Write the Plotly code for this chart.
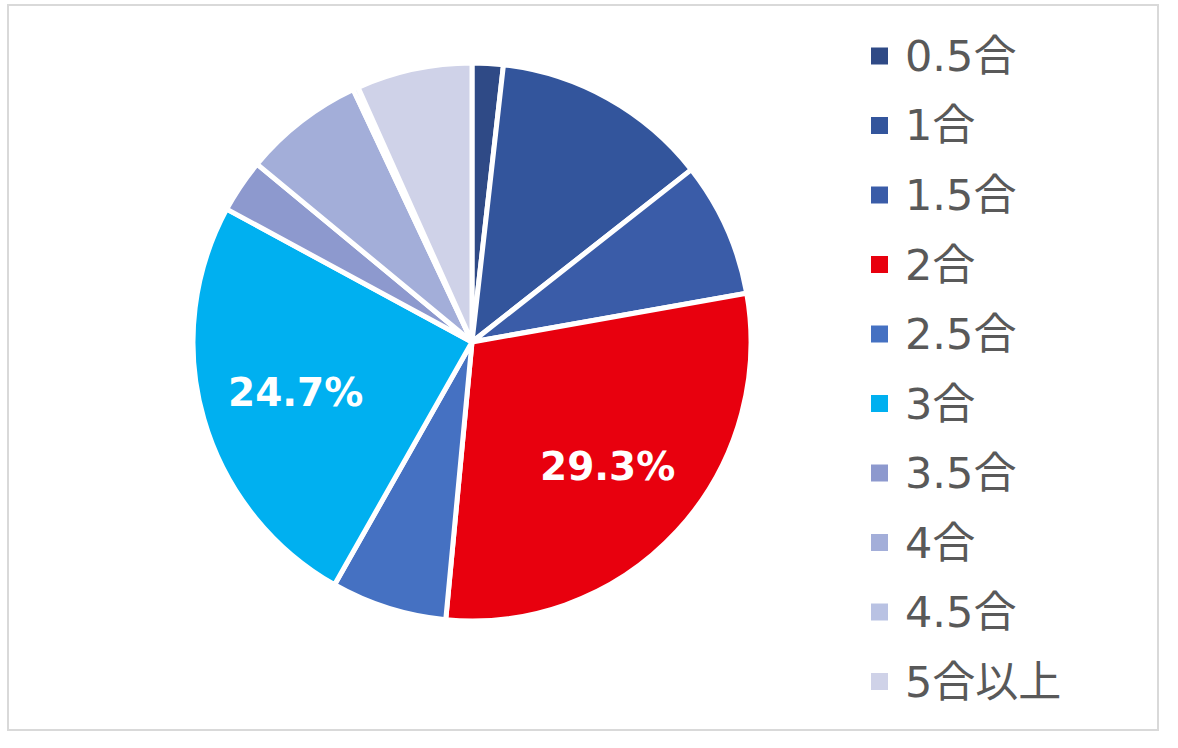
import math
import plotly.graph_objects as go

labels = ["0.5合", "1合", "1.5合", "2合", "2.5合", "3合", "3.5合", "4合", "4.5合", "5合以上"]
values = [1.8, 12.6, 7.8, 29.3, 6.7, 24.7, 3.1, 7.0, 0.3, 6.7]
colors = ["#2F4A86", "#33559C", "#3A5CA8", "#E8000E", "#4571C2", "#00B0F0",
          "#8D99CE", "#A3AED9", "#B9C2E3", "#CFD2E8"]
shown_labels = ["", "", "", "29.3%", "", "24.7%", "", "", "", ""]

W, H = 1178, 748
cx, cy, R = 472, 342, 279

fig = go.Figure()
fig.add_trace(go.Pie(
    labels=labels,
    values=values,
    textinfo="none",
    marker=dict(colors=colors, line=dict(color="white", width=5)),
    sort=False,
    direction="clockwise",
    rotation=0,
    showlegend=False,
    hoverinfo="label+percent",
    domain=dict(x=[(cx - R) / W, (cx + R) / W], y=[1 - (cy + R) / H, 1 - (cy - R) / H]),
))

shapes = [dict(type="rect", xref="paper", yref="paper",
               x0=8 / W, x1=1158 / W, y0=1 - 730 / H, y1=1 - 5 / H,
               line=dict(color="#D9D9D9", width=2), fillcolor="rgba(0,0,0,0)")]
annotations = []

# data labels placed at slice mid-angles derived from the values
total = sum(values)
cum = 0.0
for v, t in zip(values, shown_labels):
    mid = (cum + v / 2) / total * 2 * math.pi
    cum += v
    if not t:
        continue
    r = 0.66 * R
    px = cx + r * math.sin(mid)
    py = cy - r * math.cos(mid)
    annotations.append(dict(x=px / W, y=1 - py / H, xref="paper", yref="paper",
                            text="<b>" + t + "</b>", showarrow=False,
                            xanchor="center", yanchor="middle",
                            font=dict(size=39, color="white", family="DejaVu Sans")))

# manual legend built from labels/colors
y0, dy = 56, 69.5
for i, (lab, col) in enumerate(zip(labels, colors)):
    yc = y0 + i * dy
    shapes.append(dict(type="rect", xref="paper", yref="paper",
                       x0=871 / W, x1=888 / W, y0=1 - (yc + 8.5) / H, y1=1 - (yc - 8.5) / H,
                       line=dict(width=0), fillcolor=col))
    annotations.append(dict(x=903 / W, y=1 - yc / H, xref="paper", yref="paper",
                            text=lab, showarrow=False, xanchor="left", yanchor="middle",
                            font=dict(size=43, color="#595959",
                                      family="DejaVu Sans, Noto Sans CJK JP")))

fig.update_layout(
    width=W, height=H,
    margin=dict(l=0, r=0, t=0, b=0),
    paper_bgcolor="white",
    plot_bgcolor="white",
    shapes=shapes,
    annotations=annotations,
)
fig.write_html("out.html")
